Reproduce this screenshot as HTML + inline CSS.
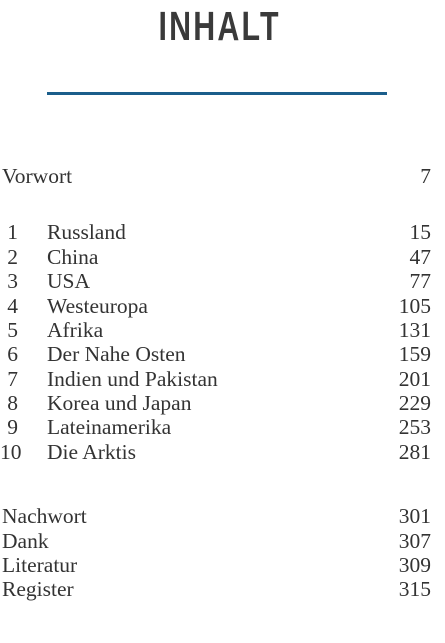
<!DOCTYPE html>
<html><head><meta charset="utf-8"><style>
body{margin:0;width:445px;height:643px;background:#fff;position:relative;overflow:hidden;font-family:"Liberation Serif",serif;color:#333}
#title{position:absolute;top:3px;left:0;width:445px;text-align:center;font-family:"Liberation Sans",sans-serif;font-weight:bold;font-size:41px;color:#3a3a3a}
#title span{display:inline-block;transform:scaleX(0.74);letter-spacing:3px;margin-left:-6px}
#rule{position:absolute;left:47px;top:92px;width:340px;height:3px;background:#1b5e8b}
.row{position:absolute;left:0;width:445px;height:24px;font-size:21.5px;line-height:24px}
.n{position:absolute;left:0;width:18px;text-align:right}
.t{position:absolute;left:47px}
.t0{left:2px}
.p{position:absolute;right:14px}
</style></head><body>
<div id="title"><span>INHALT</span></div>
<div id="rule"></div>
<div class="row" style="top:164px"><span class="t t0">Vorwort</span><span class="p">7</span></div>
<div class="row" style="top:220px"><span class="n">1</span><span class="t">Russland</span><span class="p">15</span></div>
<div class="row" style="top:244.5px"><span class="n">2</span><span class="t">China</span><span class="p">47</span></div>
<div class="row" style="top:269px"><span class="n">3</span><span class="t">USA</span><span class="p">77</span></div>
<div class="row" style="top:293.5px"><span class="n">4</span><span class="t">Westeuropa</span><span class="p">105</span></div>
<div class="row" style="top:318px"><span class="n">5</span><span class="t">Afrika</span><span class="p">131</span></div>
<div class="row" style="top:342px"><span class="n">6</span><span class="t">Der Nahe Osten</span><span class="p">159</span></div>
<div class="row" style="top:366.5px"><span class="n">7</span><span class="t">Indien und Pakistan</span><span class="p">201</span></div>
<div class="row" style="top:391px"><span class="n">8</span><span class="t">Korea und Japan</span><span class="p">229</span></div>
<div class="row" style="top:415px"><span class="n">9</span><span class="t">Lateinamerika</span><span class="p">253</span></div>
<div class="row" style="top:439.5px"><span class="n">10</span><span class="t">Die Arktis</span><span class="p">281</span></div>
<div class="row" style="top:504px"><span class="t t0">Nachwort</span><span class="p">301</span></div>
<div class="row" style="top:528.5px"><span class="t t0">Dank</span><span class="p">307</span></div>
<div class="row" style="top:553px"><span class="t t0">Literatur</span><span class="p">309</span></div>
<div class="row" style="top:577px"><span class="t t0">Register</span><span class="p">315</span></div>
</body></html>
